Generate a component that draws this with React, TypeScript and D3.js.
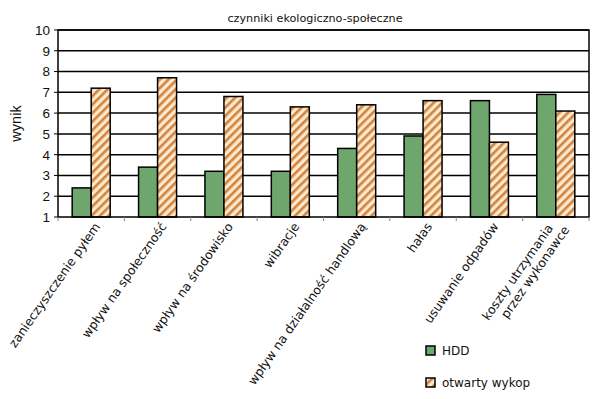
import * as d3 from "d3";

const categories = [
  ["zanieczyszczenie pyłem"],
  ["wpływ na społeczność"],
  ["wpływ na środowisko"],
  ["wibracje"],
  ["wpływ na działalność handlową"],
  ["hałas"],
  ["usuwanie odpadów"],
  ["koszty utrzymania", "przez wykonawce"],
];
const hddValues = [2.4, 3.4, 3.2, 3.2, 4.3, 4.9, 6.6, 6.9];
const openValues = [7.2, 7.7, 6.8, 6.3, 6.4, 6.6, 4.6, 6.1];
const yTicks = [1, 2, 3, 4, 5, 6, 7, 8, 9, 10];
const seriesNames = ["HDD", "otwarty wykop"];

const W = 600;
const H = 399;
const margin = { top: 30, right: 11, bottom: 182, left: 58 };
const GREEN = "#6fa66d";

export default function App() {
  const x = d3
    .scaleBand<number>()
    .domain(d3.range(categories.length))
    .range([margin.left, W - margin.right]);
  const y = d3.scaleLinear().domain([1, 10]).range([H - margin.bottom, margin.top]);
  const barW = 19;
  const bottom = H - margin.bottom;

  return (
    <svg
      width={W}
      height={H}
      style={{ position: "absolute", left: 0, top: 0, background: "#fff" }}
    >
      <defs>
        <pattern id="hatch" width="6" height="6" patternUnits="userSpaceOnUse" patternTransform="rotate(45)">
          <rect width="6" height="6" fill="#fde8cc" />
          <rect width="2.6" height="6" fill="#cf8440" />
        </pattern>
      </defs>

      <text x={315} y={22} textAnchor="middle" fontFamily="DejaVu Sans" fontSize={11.2} fill="#111">
        czynniki ekologiczno-społeczne
      </text>

      {/* gridlines */}
      {yTicks.slice(1).map((t) => (
        <line key={t} x1={margin.left} x2={W - margin.right} y1={y(t)} y2={y(t)} stroke="#000" strokeWidth={1.5} />
      ))}

      {/* y tick labels */}
      {yTicks.map((t) => (
        <g key={t}>
          <line x1={margin.left - 4} x2={margin.left} y1={y(t)} y2={y(t)} stroke="#000" />
          <text x={margin.left - 8} y={y(t)} dy="0.36em" textAnchor="end" fontFamily="Liberation Sans" fontSize={13.5} fill="#111">
            {t}
          </text>
        </g>
      ))}

      <text
        transform={`translate(21,${(margin.top + bottom) / 2}) rotate(-90)`}
        textAnchor="middle"
        fontFamily="Liberation Sans"
        fontSize={14.5}
        fill="#111"
      >
        wynik
      </text>

      {/* bars */}
      {categories.map((_, i) => {
        const cx = x(i)! + x.bandwidth() / 2;
        return (
          <g key={i}>
            <rect x={cx - barW} y={y(hddValues[i])} width={barW} height={bottom - y(hddValues[i])} fill={GREEN} stroke="#000" strokeWidth={1.5} />
            <rect x={cx} y={y(openValues[i])} width={barW} height={bottom - y(openValues[i])} fill="url(#hatch)" stroke="#000" strokeWidth={1.5} />
          </g>
        );
      })}

      {/* frame */}
      <rect x={margin.left} y={margin.top} width={W - margin.left - margin.right} height={bottom - margin.top} fill="none" stroke="#000" strokeWidth={1.5} />

      {/* x ticks */}
      {d3.range(categories.length + 1).map((i) => {
        const xx = margin.left + i * x.bandwidth();
        return <line key={i} x1={xx} x2={xx} y1={bottom} y2={bottom + 4} stroke="#888" />;
      })}

      {/* x labels */}
      {categories.map((lines, i) => {
        const cx = x(i)! + x.bandwidth() / 2;
        return (
          <text
            key={i}
            transform={`translate(${cx + 6},${bottom + 7}) rotate(-55)`}
            textAnchor="end"
            fontFamily="DejaVu Sans"
            fontSize={12.4}
            fill="#111"
          >
            {lines.map((l, j) => (
              <tspan key={j} x={lines.length > 1 && j === 0 ? -8 : 0} dy={j === 0 ? (lines.length > 1 ? "-0.35em" : "0.35em") : "1.15em"}>
                {l}
              </tspan>
            ))}
          </text>
        );
      })}

      {/* legend */}
      {seriesNames.map((name, i) => (
        <g key={name} transform={`translate(426,${351 + i * 32})`}>
          <rect x={0} y={-5} width={9} height={9} fill={i === 0 ? GREEN : "url(#hatch)"} stroke="#000" strokeWidth={1.5} />
          <text x={16} y={0} dy="0.36em" fontFamily="DejaVu Sans" fontSize={12} fill="#111">
            {name}
          </text>
        </g>
      ))}
    </svg>
  );
}
